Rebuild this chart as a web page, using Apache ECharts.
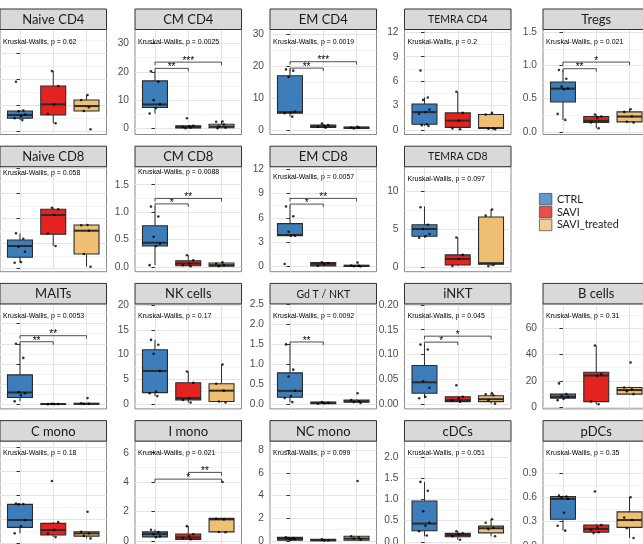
<!DOCTYPE html>
<html>
<head>
<meta charset="utf-8">
<script src="https://cdn.jsdelivr.net/npm/echarts@6/dist/echarts.min.js"></script>
<style>
  html, body { margin: 0; padding: 0; background: #ffffff; }
  #chart { width: 643px; height: 544px; }
</style>
</head>
<body>
<div id="chart"></div>
<script>
// ---------------- data ----------------
const groups = ['CTRL', 'SAVI', 'SAVI_treated'];

// Box statistics per group: [lower whisker, Q1, median, Q3, upper whisker]
// Points per group: individual donor values.
// Significance brackets: [group A, group B, bracket height, stars]

const naiveCD4Ticks = ['0', '20', '40', '60'];
const naiveCD4Boxes = [[8.8, 10.2, 12.7, 15.8, 16.2], [6.3, 12.7, 20.9, 35.0, 46.5], [15.8, 15.8, 19.6, 24.2, 28.1]];
const naiveCD4Points = [[38.3, 16.2, 15.6, 13.1, 11.8, 10.2, 8.8], [46.5, 35.0, 20.9, 13.5, 6.3], [28.1, 24.2, 18.7, 15.8, 1.7]];

const cmCD4Ticks = ['0', '10', '20', '30'];
const cmCD4Boxes = [[5.3, 7.4, 8.5, 16.8, 20.2], [0.1, 0.2, 0.5, 1.0, 1.2], [0.1, 0.3, 0.7, 1.5, 2.5]];
const cmCD4Points = [[20.2, 16.5, 10.0, 8.6, 7.2, 5.3], [3.6, 1.0, 0.8, 0.5, 0.3, 0.1], [2.5, 2.4, 1.4, 0.7, 0.3, 0.1]];
const cmCD4Sig = [[0, 1, 21.2, '**'], [0, 2, 23.4, '***']];

const emCD4Ticks = ['0', '10', '20', '30'];
const emCD4Boxes = [[4.2, 5.3, 5.6, 17.0, 19.0], [0.6, 0.8, 1.1, 1.6, 2.0], [0.4, 0.5, 0.7, 0.9, 1.0]];
const emCD4Points = [[19.0, 18.6, 16.6, 5.8, 5.5, 5.3, 4.2], [2.0, 1.6, 1.2, 1.0, 0.7], [1.0, 0.8, 0.7, 0.5]];
const emCD4Sig = [[0, 1, 19.4, '**'], [0, 2, 21.4, '***']];

const temraCD4Ticks = ['0', '3', '6', '9', '12'];
const temraCD4Boxes = [[0.5, 0.7, 2.2, 3.2, 4.0], [0.2, 0.33, 1.15, 2.1, 4.7], [0.1, 0.2, 0.25, 1.9, 2.1]];
const temraCD4Points = [[7.3, 4.0, 3.7, 2.5, 2.2, 2.0, 0.7, 0.6, 0.5], [4.7, 2.1, 1.15, 0.2, 0.1], [2.1, 1.9, 0.2, 0.15, 0.1]];

const tregsTicks = ['0.0', '0.5', '1.0', '1.5'];
const tregsBoxes = [[0.18, 0.45, 0.65, 0.75, 0.93], [0.055, 0.14, 0.165, 0.23, 0.26], [0.14, 0.15, 0.23, 0.30, 0.34]];
const tregsPoints = [[0.93, 0.80, 0.68, 0.65, 0.64, 0.27, 0.18], [0.26, 0.23, 0.21, 0.14, 0.055], [0.34, 0.30, 0.23, 0.15, 0.14]];
const tregsSig = [[0, 1, 0.95, '**'], [0, 2, 1.05, '*']];

const naiveCD8Ticks = ['0', '25', '50', '75', '100'];
const naiveCD8Boxes = [[5.8, 11.2, 22.5, 28.5, 35.2], [22.5, 34.2, 53.5, 59.2, 60.8], [1.8, 14.5, 37.8, 43.5, 43.5]];
const naiveCD8Points = [[35.2, 29.8, 21.8, 16.8, 6.5, 5.8], [60.8, 59.2, 53.5, 35.0, 22.5], [43.5, 43.3, 37.8, 14.5, 1.8]];

const cmCD8Ticks = ['0.0', '0.5', '1.0', '1.5'];
const cmCD8Boxes = [[0.03, 0.38, 0.44, 0.75, 1.10], [0.01, 0.02, 0.06, 0.11, 0.21], [0.0, 0.01, 0.03, 0.07, 0.08]];
const cmCD8Points = [[1.10, 0.92, 0.55, 0.42, 0.38, 0.03], [0.21, 0.12, 0.06, 0.03, 0.01], [0.08, 0.06, 0.03, 0.01]];
const cmCD8Sig = [[0, 1, 1.15, '*'], [0, 2, 1.25, '**']];

const emCD8Ticks = ['0', '3', '6', '9', '12'];
const emCD8Boxes = [[3.8, 3.8, 3.9, 5.3, 7.4], [0.1, 0.1, 0.35, 0.5, 0.55], [0.0, 0.02, 0.1, 0.17, 0.2]];
const emCD8Points = [[7.4, 6.2, 4.3, 3.8, 3.8, 0.33], [0.55, 0.45, 0.3, 0.1], [0.5, 0.15, 0.1, 0.05, 0.02]];
const emCD8Sig = [[0, 1, 7.7, '*'], [0, 2, 8.4, '**']];

const temraCD8Ticks = ['0', '5', '10'];
const temraCD8Boxes = [[3.9, 4.1, 5.05, 5.6, 8.0], [0.22, 0.35, 1.14, 1.67, 3.95], [0.2, 0.45, 0.58, 6.63, 7.6]];
const temraCD8Points = [[7.9, 5.6, 5.05, 4.4, 4.1, 3.9], [3.95, 1.67, 1.14, 0.22], [7.6, 6.8, 0.35, 0.2]];

const maitsTicks = ['0', '2', '4', '6', '8'];
const maitsBoxes = [[0.3, 0.68, 1.18, 2.92, 6.0], [0.01, 0.02, 0.03, 0.04, 0.05], [0.0, 0.03, 0.05, 0.1, 0.15]];
const maitsPoints = [[6.0, 4.6, 1.2, 1.1, 0.9, 0.3], [0.05, 0.03, 0.03, 0.02], [0.62, 0.1, 0.05, 0.03]];
const maitsSig = [[0, 1, 6.2, '**'], [0, 2, 6.8, '**']];

const nkTicks = ['0', '5', '10', '15', '20'];
const nkBoxes = [[1.6, 2.3, 6.7, 11.0, 13.0], [0.3, 0.8, 1.2, 4.3, 6.6], [0.3, 0.5, 2.7, 4.1, 8.0]];
const nkPoints = [[13.0, 12.0, 10.2, 6.7, 2.5, 2.2, 1.6], [6.6, 4.3, 1.2, 0.8, 0.3], [8.0, 4.1, 2.7, 0.5, 0.3]];

const gdtTicks = ['0.0', '0.5', '1.0', '1.5', '2.0', '2.5'];
const gdtBoxes = [[0.04, 0.17, 0.33, 0.78, 1.49], [0.0, 0.01, 0.03, 0.05, 0.06], [0.03, 0.05, 0.07, 0.1, 0.12]];
const gdtPoints = [[1.49, 0.86, 0.69, 0.33, 0.2, 0.15, 0.05], [0.05, 0.03, 0.02, 0.01], [0.27, 0.1, 0.07, 0.05, 0.03]];
const gdtSig = [[0, 1, 1.55, '**']];

const inktTicks = ['0.00', '0.05', '0.10', '0.15', '0.20'];
const inktBoxes = [[0.012, 0.022, 0.044, 0.078, 0.12], [0.005, 0.005, 0.008, 0.015, 0.016], [0.001, 0.005, 0.01, 0.017, 0.022]];
const inktPoints = [[0.12, 0.11, 0.046, 0.033, 0.015, 0.012], [0.038, 0.015, 0.012, 0.008, 0.005], [0.022, 0.02, 0.018, 0.008, 0.001]];
const inktSig = [[0, 1, 0.125, '*'], [0, 2, 0.137, '*']];

const bCellTicks = ['0', '20', '40', '60'];
const bCellBoxes = [[5.2, 6.7, 7.7, 9.8, 10.0], [2.1, 4.1, 24.0, 26.5, 47.0], [9.8, 9.8, 12.9, 14.9, 15.5]];
const bCellPoints = [[18.0, 9.8, 8.5, 7.7, 6.5, 5.2], [47.0, 25.0, 24.0, 4.1, 2.1], [34.0, 14.9, 13.5, 12.0, 9.8]];

const cMonoTicks = ['0', '20', '40', '60', '80'];
const cMonoBoxes = [[8.1, 13.1, 19.2, 32.2, 33.0], [5.0, 6.7, 10.8, 16.4, 17.5], [3.9, 5.8, 8.1, 9.4, 9.4]];
const cMonoPoints = [[33.0, 32.5, 32.2, 19.2, 14.0, 8.1], [51.7, 17.5, 11.0, 8.0, 5.0], [26.1, 9.4, 8.1, 6.0, 3.9]];

const iMonoTicks = ['0', '2', '4', '6'];
const iMonoBoxes = [[0.25, 0.27, 0.46, 0.61, 0.78], [0.1, 0.1, 0.23, 0.46, 1.0], [0.58, 0.61, 1.46, 1.53, 1.53]];
const iMonoPoints = [[0.75, 0.6, 0.45, 0.3, 0.25], [1.0, 0.45, 0.3, 0.2, 0.1], [4.0, 1.5, 1.45, 0.6, 0.58]];
const iMonoSig = [[0, 2, 4.2, '*'], [1, 2, 4.66, '**']];

const ncMonoTicks = ['0', '2', '4', '6', '8'];
const ncMonoBoxes = [[0.06, 0.06, 0.18, 0.3, 0.32], [0.0, 0.0, 0.05, 0.12, 0.15], [0.06, 0.06, 0.2, 0.4, 0.42]];
const ncMonoPoints = [[0.3, 0.25, 0.2, 0.15, 0.1], [0.12, 0.05, 0.03], [5.28, 0.4, 0.3, 0.2, 0.1]];

const cdcTicks = ['0.0', '0.5', '1.0', '1.5', '2.0'];
const cdcBoxes = [[0.13, 0.26, 0.43, 0.96, 1.41], [0.05, 0.12, 0.16, 0.2, 0.25], [0.13, 0.21, 0.32, 0.37, 0.53]];
const cdcPoints = [[1.41, 1.2, 0.72, 0.45, 0.38, 0.25, 0.15], [0.25, 0.2, 0.18, 0.13, 0.05], [0.53, 0.45, 0.33, 0.3, 0.13]];

const pdcTicks = ['0.0', '0.3', '0.6', '0.9'];
const pdcBoxes = [[0.19, 0.33, 0.58, 0.61, 0.62], [0.16, 0.17, 0.21, 0.26, 0.27], [0.1, 0.23, 0.32, 0.42, 0.6]];
const pdcPoints = [[0.62, 0.61, 0.6, 0.58, 0.41, 0.25, 0.19], [0.67, 0.26, 0.23, 0.2, 0.17, 0.16], [0.6, 0.35, 0.32, 0.22, 0.1]];

// Panel order (facet_wrap order) with Kruskal-Wallis p-values
const panels = [
  { name: 'Naive CD4',  p: '0.62',   ticks: naiveCD4Ticks,  boxes: naiveCD4Boxes,  points: naiveCD4Points,  sig: [] },
  { name: 'CM CD4',     p: '0.0025', ticks: cmCD4Ticks,     boxes: cmCD4Boxes,     points: cmCD4Points,     sig: cmCD4Sig },
  { name: 'EM CD4',     p: '0.0019', ticks: emCD4Ticks,     boxes: emCD4Boxes,     points: emCD4Points,     sig: emCD4Sig },
  { name: 'TEMRA CD4',  p: '0.2',    ticks: temraCD4Ticks,  boxes: temraCD4Boxes,  points: temraCD4Points,  sig: [] },
  { name: 'Tregs',      p: '0.021',  ticks: tregsTicks,     boxes: tregsBoxes,     points: tregsPoints,     sig: tregsSig },
  { name: 'Naive CD8',  p: '0.058',  ticks: naiveCD8Ticks,  boxes: naiveCD8Boxes,  points: naiveCD8Points,  sig: [] },
  { name: 'CM CD8',     p: '0.0088', ticks: cmCD8Ticks,     boxes: cmCD8Boxes,     points: cmCD8Points,     sig: cmCD8Sig },
  { name: 'EM CD8',     p: '0.0057', ticks: emCD8Ticks,     boxes: emCD8Boxes,     points: emCD8Points,     sig: emCD8Sig },
  { name: 'TEMRA CD8',  p: '0.097',  ticks: temraCD8Ticks,  boxes: temraCD8Boxes,  points: temraCD8Points,  sig: [] },
  { name: 'MAITs',      p: '0.0053', ticks: maitsTicks,     boxes: maitsBoxes,     points: maitsPoints,     sig: maitsSig },
  { name: 'NK cells',   p: '0.17',   ticks: nkTicks,        boxes: nkBoxes,        points: nkPoints,        sig: [] },
  { name: 'Gd T / NKT', p: '0.0092', ticks: gdtTicks,       boxes: gdtBoxes,       points: gdtPoints,       sig: gdtSig },
  { name: 'iNKT',       p: '0.045',  ticks: inktTicks,      boxes: inktBoxes,      points: inktPoints,      sig: inktSig },
  { name: 'B cells',    p: '0.31',   ticks: bCellTicks,     boxes: bCellBoxes,     points: bCellPoints,     sig: [] },
  { name: 'C mono',     p: '0.18',   ticks: cMonoTicks,     boxes: cMonoBoxes,     points: cMonoPoints,     sig: [] },
  { name: 'I mono',     p: '0.021',  ticks: iMonoTicks,     boxes: iMonoBoxes,     points: iMonoPoints,     sig: iMonoSig },
  { name: 'NC mono',    p: '0.099',  ticks: ncMonoTicks,    boxes: ncMonoBoxes,    points: ncMonoPoints,    sig: [] },
  { name: 'cDCs',       p: '0.051',  ticks: cdcTicks,       boxes: cdcBoxes,       points: cdcPoints,       sig: [] },
  { name: 'pDCs',       p: '0.35',   ticks: pdcTicks,       boxes: pdcBoxes,       points: pdcPoints,       sig: [] }
];

// ---------------- layout & style ----------------
const groupColors = ['#3D7EBA', '#E32320', '#EFBF74'];
const EDGE = '#2B2B2B';
const colLeft = [0, 135, 270, 404.5, 543];
const stripTop = [9, 146.2, 283.4, 420.6];
const stripH = 20.5, panelH = 105, panelW = 106.5;
// [row, col] of every facet
const slots = [[0,0],[0,1],[0,2],[0,3],[0,4],[1,0],[1,1],[1,2],[1,3],
               [2,0],[2,1],[2,2],[2,3],[2,4],[3,0],[3,1],[3,2],[3,3],[3,4]];
// y extent of each facet (includes ggplot-style 5% padding)
const yRange = [[-2.3, 78.5], [-2.1, 34.9], [-1.4, 31.5], [-0.55, 12.34], [-0.04, 1.54],
                [-3.2, 101.8], [-0.09, 1.83], [-0.62, 12.3], [-0.53, 13.2],
                [-0.45, 9.95], [-1.0, 20.3], [-0.12, 2.5], [-0.0096, 0.202], [-1.5, 78.8],
                [-2.5, 84.9], [-0.36, 6.79], [-0.47, 8.8], [-0.1, 2.37], [0.0, 1.29]];
// distance of the test label below the top of each facet (px)
const kwOffset = [13, 13, 13, 13, 13, 6, 5.6, 10.6, 12.6, 12, 12, 12, 12, 12, 11.6, 11.6, 11.6, 11.6, 11.6];
const smallStrip = { 'TEMRA CD4': 1, 'TEMRA CD8': 1, 'Gd T / NKT': 1 };
const jitter = [-0.12, 0.1, -0.04, 0.15, 0.03, -0.16, 0.07, -0.08, 0.12];
const BOX_WIDTH = 0.75;

const grids = [], xAxes = [], yAxes = [], series = [], graphics = [];

panels.forEach((pn, i) => {
  const [r, c] = slots[i];
  const left = colLeft[c];
  const top = stripTop[r] + stripH;
  const [ymin, ymax] = yRange[i];
  const tickVals = pn.ticks.map(Number);
  const minorVals = [];
  const step = tickVals[1] - tickVals[0];
  for (let k = -1; k < tickVals.length; k++) {
    const m = tickVals[0] + (k + 0.5) * step;
    if (m > ymin && m < ymax) minorVals.push(m);
  }

  grids.push({
    left: left, top: top, width: panelW, height: panelH,
    show: true, backgroundColor: '#ffffff', borderColor: '#8a8a8a', borderWidth: 1,
    containLabel: false, outerBoundsMode: 'none'
  });

  xAxes.push({
    gridIndex: i, type: 'value', min: -0.6, max: 2.6,
    axisLine: { show: false }, axisLabel: { show: false },
    axisTick: { show: false, customValues: [0, 1, 2] },
    splitLine: { show: true, lineStyle: { color: '#E4E4E4', width: 1 } }
  });

  yAxes.push({
    gridIndex: i, type: 'value', min: ymin, max: ymax,
    axisLine: { show: false },
    axisTick: { show: true, length: 3.5, customValues: tickVals, lineStyle: { color: '#333333', width: 1 } },
    axisLabel: {
      customValues: tickVals, margin: 6, fontSize: 10.2, color: '#4D4D4D',
      fontFamily: 'Liberation Sans',
      formatter: v => { const t = pn.ticks.find(s => Math.abs(Number(s) - v) < 1e-9); return t === undefined ? '' : t; }
    },
    splitLine: { show: true, lineStyle: { color: '#E4E4E4', width: 1 } }
  });
  yAxes.push({
    gridIndex: i, type: 'value', min: ymin, max: ymax,
    axisLine: { show: false }, axisLabel: { show: false },
    axisTick: { show: false, customValues: minorVals },
    splitLine: { show: true, lineStyle: { color: '#F0F0F0', width: 0.8 } }
  });

  const yIdx = 2 * i;

  // boxes
  series.push({
    type: 'custom', xAxisIndex: i, yAxisIndex: yIdx, z: 2, silent: true,
    data: pn.boxes.map((b, g) => [g].concat(b)),
    renderItem: (params, api) => {
      const g = api.value(0);
      const lo = api.coord([g, api.value(1)]);
      const q1 = api.coord([g, api.value(2)]);
      const md = api.coord([g, api.value(3)]);
      const q3 = api.coord([g, api.value(4)]);
      const hi = api.coord([g, api.value(5)]);
      const half = api.size([BOX_WIDTH, 0])[0] / 2;
      const x = lo[0];
      return {
        type: 'group',
        children: [
          { type: 'line', shape: { x1: x, y1: hi[1], x2: x, y2: q3[1] }, style: { stroke: EDGE, lineWidth: 1 } },
          { type: 'line', shape: { x1: x, y1: q1[1], x2: x, y2: lo[1] }, style: { stroke: EDGE, lineWidth: 1 } },
          { type: 'rect', shape: { x: x - half, y: q3[1], width: 2 * half, height: Math.max(q1[1] - q3[1], 0.5) },
            style: { fill: groupColors[g], stroke: EDGE, lineWidth: 1.1 } },
          { type: 'line', shape: { x1: x - half, y1: md[1], x2: x + half, y2: md[1] }, style: { stroke: EDGE, lineWidth: 2 } }
        ]
      };
    }
  });

  // individual points
  const pts = [];
  pn.points.forEach((vals, g) => vals.forEach((v, k) => pts.push([g + jitter[(k + 2 * g) % jitter.length], v])));
  series.push({
    type: 'scatter', xAxisIndex: i, yAxisIndex: yIdx, z: 3, silent: true,
    symbolSize: 2.6, itemStyle: { color: '#000000' }, data: pts
  });

  // pairwise comparison brackets
  if (pn.sig.length) {
    series.push({
      type: 'custom', xAxisIndex: i, yAxisIndex: yIdx, z: 4, silent: true,
      data: pn.sig.map(s => [s[0], s[1], s[2]]),
      renderItem: (params, api) => {
        const a = api.coord([api.value(0), api.value(2)]);
        const b = api.coord([api.value(1), api.value(2)]);
        const tip = 3;
        return {
          type: 'group',
          children: [
            { type: 'polyline', shape: { points: [[a[0], a[1] + tip], [a[0], a[1]], [b[0], b[1]], [b[0], b[1] + tip]] },
              style: { stroke: '#222222', lineWidth: 0.8, fill: null } },
            { type: 'text', x: (a[0] + b[0]) / 2, y: a[1] - 1,
              style: { text: pn.sig[params.dataIndex][3], fontSize: 10, fontFamily: 'Liberation Sans',
                       fill: '#000000', align: 'center', verticalAlign: 'middle' } }
          ]
        };
      }
    });
  }

  // facet strip
  graphics.push({
    type: 'rect', z: 50, silent: true,
    shape: { x: left, y: stripTop[r], width: panelW, height: stripH },
    style: { fill: '#D9D9D9', stroke: '#333333', lineWidth: 1 }
  });
  graphics.push({
    type: 'text', z: 51, silent: true,
    x: left + panelW / 2, y: stripTop[r] + stripH / 2 + 0.5,
    style: { text: pn.name, fontSize: smallStrip[pn.name] ? 10.5 : 13, fontFamily: 'Lato',
             fill: '#1A1A1A', align: 'center', verticalAlign: 'middle' }
  });
  // Kruskal-Wallis label
  graphics.push({
    type: 'text', z: 51, silent: true,
    x: left + 3, y: top + kwOffset[i],
    style: { text: 'Kruskal-Wallis, p = ' + pn.p, fontSize: 7, fontFamily: 'Liberation Sans',
             fill: '#000000', align: 'left', verticalAlign: 'middle' }
  });
});

// legend entries
groups.forEach((g, k) => {
  series.push({ type: 'scatter', name: g, xAxisIndex: 0, yAxisIndex: 0, data: [], itemStyle: { color: groupColors[k] } });
});

const chart = echarts.init(document.getElementById('chart'), null, { renderer: 'canvas' });
chart.setOption({
  animation: false,
  backgroundColor: '#ffffff',
  grid: grids,
  xAxis: xAxes,
  yAxis: yAxes,
  series: series,
  graphic: { elements: graphics },
  legend: {
    orient: 'vertical', left: 534, top: 188,
    itemWidth: 12.5, itemHeight: 11.5, itemGap: 0.6,
    icon: 'rect', selectedMode: false,
    textStyle: { fontSize: 10.8, fontFamily: 'Lato', color: '#1A1A1A', lineHeight: 11.5 },
    data: groups.map((g, k) => ({ name: g, itemStyle: { color: groupColors[k], borderColor: '#333333', borderWidth: 0.8 } }))
  }
});
</script>
</body>
</html>
